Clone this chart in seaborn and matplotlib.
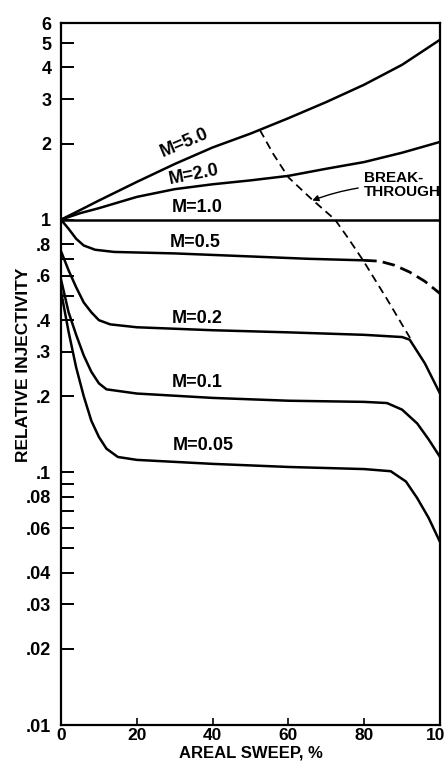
import matplotlib
matplotlib.use("Agg")
import matplotlib.pyplot as plt
import seaborn as sns
import numpy as np
import pandas as pd

# ---- data ----
sweep_m50 = [0, 5, 10, 20, 30, 40, 50, 60, 70, 80, 90, 100]
inj_m50 = [1.0, 1.09, 1.19, 1.41, 1.66, 1.93, 2.19, 2.52, 2.92, 3.42, 4.1, 5.15]

sweep_m20 = [0, 5, 10, 20, 30, 40, 50, 60, 70, 80, 90, 100]
inj_m20 = [1.0, 1.06, 1.11, 1.23, 1.32, 1.38, 1.43, 1.49, 1.59, 1.69, 1.84, 2.03]

sweep_m10 = [0, 50, 100]
inj_m10 = [1.0, 1.0, 1.0]

sweep_m05 = [0, 2, 4, 6, 9, 14, 30, 50, 65, 80]
inj_m05 = [1.0, 0.92, 0.84, 0.79, 0.76, 0.745, 0.735, 0.715, 0.70, 0.69]
sweep_m05_bt = [80, 84, 88, 92, 96, 100]
inj_m05_bt = [0.69, 0.685, 0.66, 0.62, 0.57, 0.51]

sweep_m02 = [0, 2, 4, 6, 8, 10, 13, 20, 40, 60, 80, 90, 92, 96, 100]
inj_m02 = [0.75, 0.63, 0.54, 0.47, 0.43, 0.40, 0.385, 0.375, 0.365, 0.358, 0.35, 0.343, 0.335, 0.27, 0.205]

sweep_m01 = [0, 2, 4, 6, 8, 10, 12, 20, 40, 60, 80, 86, 90, 94, 97, 100]
inj_m01 = [0.58, 0.43, 0.35, 0.29, 0.25, 0.225, 0.213, 0.205, 0.197, 0.192, 0.19, 0.188, 0.177, 0.156, 0.135, 0.115]

sweep_m005 = [0, 2, 4, 6, 8, 10, 12, 15, 20, 40, 60, 80, 87, 91, 94, 97, 100]
inj_m005 = [0.52, 0.36, 0.26, 0.20, 0.16, 0.138, 0.124, 0.115, 0.112, 0.108, 0.105, 0.103, 0.101, 0.092, 0.079, 0.066, 0.053]

sweep_bt = [52.5, 56, 60, 66, 72.3, 76, 79.7, 86, 92.1]
inj_bt = [2.26, 1.82, 1.47, 1.21, 1.0, 0.835, 0.69, 0.485, 0.34]

ytick_vals = [0.01, 0.02, 0.03, 0.04, 0.06, 0.08, 0.1, 0.2, 0.3, 0.4, 0.6, 0.8, 1, 2, 3, 4, 5, 6]
ytick_labels = ['.01', '.02', '.03', '.04', '.06', '.08', '.1', '.2', '.3', '.4', '.6', '.8',
                '1', '2', '3', '4', '5', '6']
yminor_vals = [0.05, 0.07, 0.09, 0.5, 0.7]
xtick_vals = [0, 20, 40, 60, 80, 100]

curve_labels = ['M=5.0', 'M=2.0', 'M=1.0', 'M=0.5', 'M=0.2', 'M=0.1', 'M=0.05']
label_x = [32.5, 35.1, 35.9, 35.4, 35.9, 35.9, 37.5]
label_y = [2.02, 1.51, 1.12, 0.815, 0.405, 0.226, 0.128]
label_rot = [23, 11, 0, 0, 0, 0, 0]

# ---- style ----
sns.set_theme(style="white")
plt.rcParams['font.family'] = ['Liberation Sans', 'DejaVu Sans']
plt.rcParams['axes.linewidth'] = 1.6
plt.rcParams['axes.edgecolor'] = 'black'

fig = plt.figure(figsize=(4.45, 7.71), dpi=100)
ax = fig.add_axes([61 / 445, 46 / 771, 379 / 445, 702 / 771])

solid = [(sweep_m50, inj_m50), (sweep_m20, inj_m20), (sweep_m10, inj_m10),
         (sweep_m05, inj_m05), (sweep_m02, inj_m02), (sweep_m01, inj_m01),
         (sweep_m005, inj_m005)]
for xs, ys in solid:
    sns.lineplot(x=xs, y=ys, ax=ax, color='black', lw=1.8, sort=False, estimator=None)

sns.lineplot(x=sweep_m05_bt, y=inj_m05_bt, ax=ax, color='black', lw=2.0, sort=False,
             estimator=None, linestyle=(0, (4.5, 2.2)))
sns.lineplot(x=sweep_bt, y=inj_bt, ax=ax, color='black', lw=1.3, sort=False,
             estimator=None, linestyle=(0, (4.5, 2.8)))

ax.set_yscale('log')
ax.set_xlim(0, 100)
ax.set_ylim(0.01, 6)

ax.yaxis.set_major_locator(matplotlib.ticker.FixedLocator(ytick_vals))
ax.yaxis.set_major_formatter(matplotlib.ticker.FixedFormatter(ytick_labels))
ax.yaxis.set_minor_locator(matplotlib.ticker.FixedLocator(yminor_vals))
ax.yaxis.set_minor_formatter(matplotlib.ticker.NullFormatter())
ax.set_xticks(xtick_vals)
ax.set_xticklabels([str(v) for v in xtick_vals])

ax.tick_params(axis='y', which='both', direction='in', length=9, width=1.4,
               labelsize=13, pad=7, left=True, right=False, colors='black')
ax.tick_params(axis='x', which='both', direction='in', length=5, width=1.2,
               labelsize=12.5, pad=2, bottom=True, top=False, colors='black')
for lab in ax.get_yticklabels() + ax.get_xticklabels():
    lab.set_fontweight('bold')

ax.set_ylabel('RELATIVE INJECTIVITY', fontsize=12.5, fontweight='bold', color='black')
ax.set_xlabel('AREAL SWEEP, %', fontsize=12, fontweight='bold', color='black')
ax.yaxis.set_label_coords(-0.079, 0.513)
ax.xaxis.set_label_coords(0.5, -0.029)

for t, lx, ly, r in zip(curve_labels, label_x, label_y, label_rot):
    ax.text(lx, ly, t, ha='center', va='center', rotation=r, rotation_mode='anchor',
            fontsize=13, fontweight='bold', color='black')

ax.annotate('BREAK-\nTHROUGH', xy=(66.3, 1.19), xytext=(80.0, 1.37),
            ha='left', va='center', fontsize=11, fontweight='bold', color='black',
            linespacing=1.05,
            arrowprops=dict(arrowstyle='-|>', color='black', lw=1.0,
                            mutation_scale=9, shrinkA=2, shrinkB=0,
                            connectionstyle='arc3,rad=0.1'))

fig.savefig('out.png', dpi=100)
